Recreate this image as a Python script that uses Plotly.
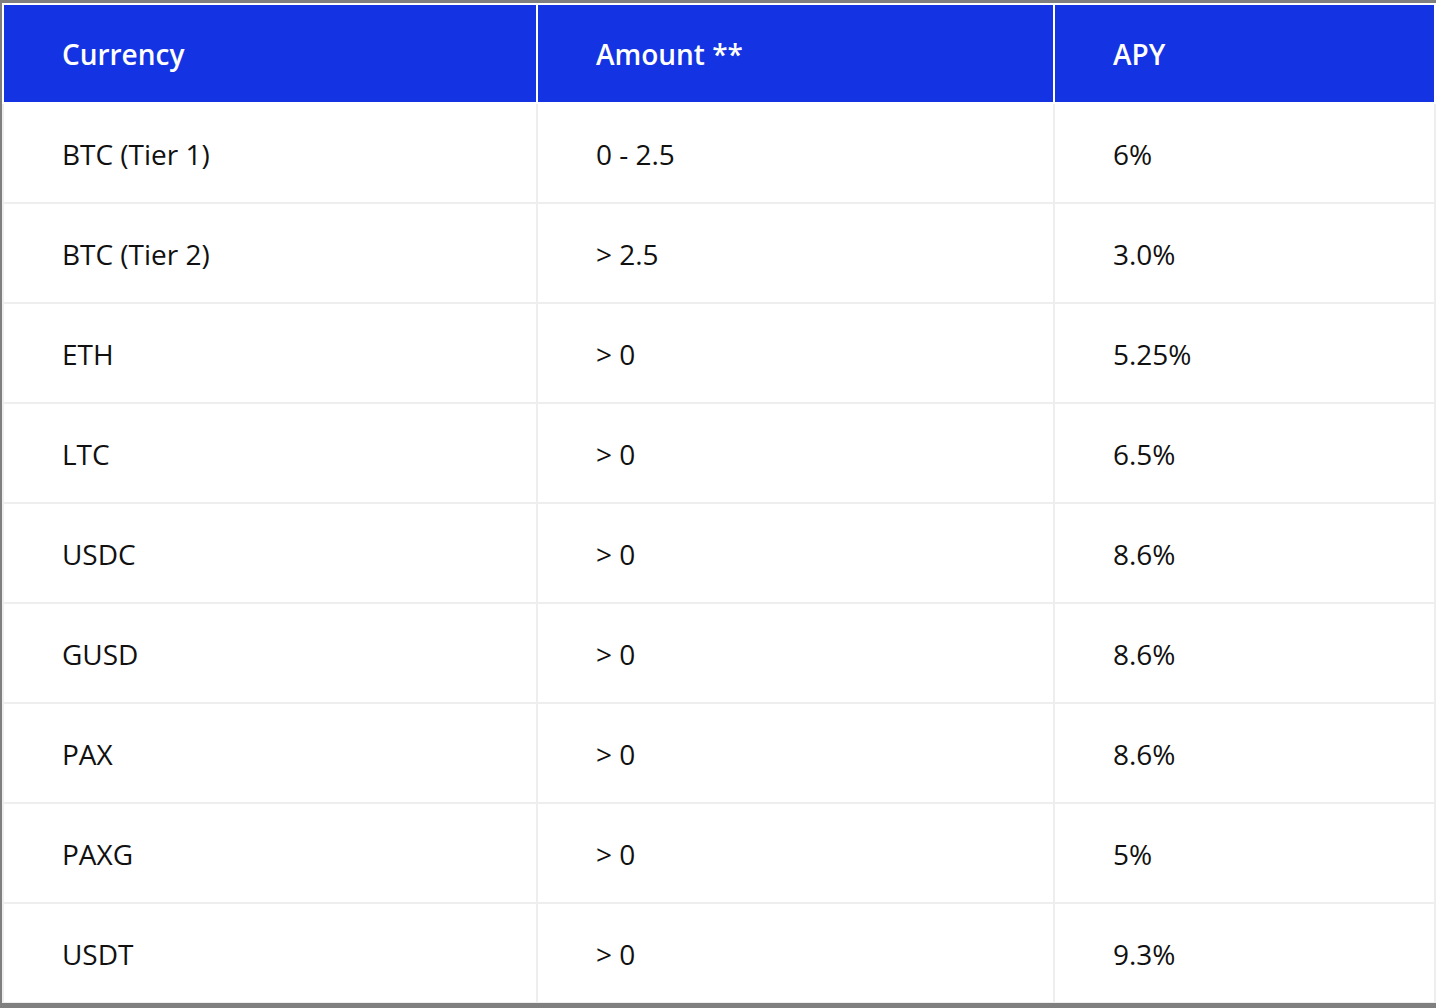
import plotly.graph_objects as go

headers = ["Currency", "Amount **", "APY"]
currencies = ["BTC (Tier 1)", "BTC (Tier 2)", "ETH", "LTC", "USDC", "GUSD", "PAX", "PAXG", "USDT"]
amounts = ["0 - 2.5", "> 2.5", "> 0", "> 0", "> 0", "> 0", "> 0", "> 0", "> 0"]
apys = ["6%", "3.0%", "5.25%", "6.5%", "8.6%", "8.6%", "8.6%", "5%", "9.3%"]

TEXT_SIZE = 28


def fmt(items, spacer_size):
    # an invisible first line pushes the visible text down to the middle of the row
    return [
        "<span style='font-size:%.1fpx'>\u00a0</span><br>%s%s"
        % (spacer_size, "\u00a0" * 7, s)
        for s in items
    ]


fig = go.Figure(
    go.Table(
        columnwidth=[534, 517, 381],
        header=dict(
            values=fmt(headers, 15.5),
            fill_color="#1433E3",
            line=dict(color="#ffffff", width=2),
            align="left",
            height=99,
            font=dict(family="Open Sans", size=TEXT_SIZE, color="#ffffff", weight=600),
        ),
        cells=dict(
            values=[fmt(currencies, 16.4), fmt(amounts, 16.4), fmt(apys, 16.4)],
            fill_color="#ffffff",
            line=dict(color="#eeeeee", width=2),
            align="left",
            height=100,
            font=dict(family="Open Sans", size=TEXT_SIZE, color="#111111"),
        ),
        domain=dict(x=[0, 1], y=[0, 1]),
    )
)

fig.update_layout(
    width=1436,
    height=1008,
    margin=dict(l=3, r=1, t=4, b=5, pad=0),
    paper_bgcolor="#7f7f7f",
)

fig.write_html(
    "out.html",
    config={"displayModeBar": False},
    post_script="document.body.style.margin='0';",
)
